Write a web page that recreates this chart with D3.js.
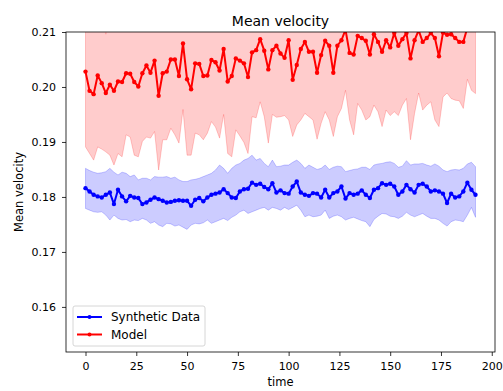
<!DOCTYPE html>
<html>
<head>
<meta charset="utf-8">
<script src="https://cdn.jsdelivr.net/npm/d3@7"></script>
<style>
  body { margin: 0; background: #fff; }
  svg { display: block; font-family: "DejaVu Sans", sans-serif; }
</style>
</head>
<body>
<svg id="chart" width="503" height="391"></svg>
<script>
// time steps (every 2 units, 0..192)
const time = d3.range(0, 193, 2);

const xTicks = [0, 25, 50, 75, 100, 125, 150, 175, 200];
const yTicks = [0.16, 0.17, 0.18, 0.19, 0.20, 0.21];

// Synthetic data: mean and band bounds
const synthMean = [
  .1816, .1810, .1804, .1801, .1799, .1804, .1808, .1787, .1813, .1801,
  .1792, .1802, .1799, .1798, .1787, .1790, .1795, .1799, .1796, .1793,
  .1790, .1791, .1793, .1794, .1793, .1793, .1784, .1795, .1798, .1792,
  .1799, .1804, .1806, .1808, .1814, .1807, .1799, .1798, .1810, .1814,
  .1815, .1826, .1822, .1824, .1818, .1814, .1825,
  .1808, .1812, .1807, .1806, .1819, .1828, .1808, .1804, .1802, .1807,
  .1806, .1799, .1813, .1799, .1807, .1810, .1819, .1797, .1807, .1804,
  .1806, .1812, .1804, .1798, .1813, .1816, .1825, .1822, .1824, .1819,
  .1804, .1810, .1822, .1814, .1808, .1822, .1824, .1819, .1810, .1812,
  .1810, .1806, .1789, .1806, .1799, .1801, .1810, .1826, .1813, .1804
];
const synthHigh = [
  .1852, .1848, .1845, .1843, .1844, .1846, .1852, .1845, .1840, .1845,
  .1843, .1837, .1840, .1831, .1834, .1834, .1831, .1837, .1836, .1836,
  .1837, .1834, .1836, .1831, .1828, .1828, .1831, .1832, .1834, .1837,
  .1840, .1843, .1849, .1858, .1852, .1843, .1852, .1858, .1861, .1867,
  .1870, .1876, .1867, .1870, .1861, .1855, .1867,
  .1855, .1856, .1858, .1858, .1863, .1867, .1861, .1852, .1858, .1854,
  .1850, .1852, .1858, .1850, .1854, .1856, .1855, .1846, .1848, .1850,
  .1851, .1854, .1854, .1850, .1858, .1860, .1861, .1863, .1864, .1861,
  .1854, .1856, .1866, .1858, .1860, .1860, .1861, .1858, .1856, .1860,
  .1856, .1849, .1846, .1849, .1850, .1849, .1852, .1860, .1863, .1855
];
const synthLow = [
  .1779, .1776, .1773, .1772, .1773, .1767, .1758, .1767, .1761, .1758,
  .1759, .1755, .1758, .1757, .1761, .1758, .1752, .1755, .1749, .1746,
  .1752, .1751, .1747, .1749, .1745, .1741, .1749, .1752, .1751, .1753,
  .1758, .1752, .1755, .1758, .1761, .1757, .1763, .1767, .1773, .1776,
  .1770, .1773, .1776, .1779, .1781, .1776, .1781,
  .1779, .1776, .1781, .1777, .1781, .1785, .1776, .1764, .1767, .1764,
  .1765, .1767, .1776, .1761, .1765, .1767, .1764, .1758, .1761, .1763,
  .1760, .1757, .1755, .1746, .1759, .1765, .1770, .1769, .1765, .1764,
  .1761, .1765, .1772, .1767, .1764, .1767, .1770, .1765, .1761, .1761,
  .1758, .1752, .1747, .1755, .1758, .1757, .1755, .1767, .1781, .1763
];

// Model: mean and lower bound (upper bound runs off the top of the axes)
const modelMean = [
  .2028, .1993, .1987, .2021, .2007, .1989, .2004, .1993, .2010, .2009,
  .2025, .2024, .2009, .2001, .2025, .2039, .2026, .2048, .1984, .2025,
  .2028, .2050, .2050, .2020, .2079, .2014, .1996, .2043, .2042, .2020,
  .2021, .2049, .2045, .2030, .2069, .2010, .2020, .2052, .2048, .2043,
  .2018, .2063, .2067, .2087, .2066,
  .2032, .2067, .2075, .2061, .2053, .2085, .2013, .2040, .2069, .2082,
  .2064, .2064, .2026, .2058, .2084, .2075, .2026, .2075, .2085, .2104,
  .2062, .2059, .2093, .2089, .2084, .2059, .2096, .2082, .2064, .2085,
  .2072, .2098, .2075, .2087, .2098, .2052, .2085, .2103, .2082, .2089,
  .2098, .2089, .2056, .2099, .2095, .2096, .2089, .2082, .2082,
  .2108, .2112, .2106
];
const modelLow = [
  .1891, .1879, .1867, .1891, .1887, .1882, .1876, .1858, .1879, .1873,
  .1913, .1909, .1876, .1873, .1901, .1909, .1907, .1919, .1849, .1904,
  .1904, .1925, .1913, .1898, .1959, .1876, .1876, .1916, .1913, .1904,
  .1916, .1937, .1927, .1907, .1950, .1879, .1873, .1922, .1911, .1899,
  .1879, .1946, .1944, .1973, .1946,
  .1898, .1950, .1945, .1946, .1948, .1940, .1910, .1931, .1940, .1952,
  .1946, .1940, .1905, .1934, .1955, .1940, .1910, .1946, .1961, .1994,
  .1940, .1913, .1970, .1958, .1940, .1946, .1967, .1955, .1928, .1958,
  .1948, .1955, .1948, .1967, .1979, .1904, .1952, .1989, .1958, .1967,
  .1973, .1940, .1928, .1982, .1989, .1979, .1976, .1975, .1961,
  .2014, .1994, .1988
];
// symmetric band: mean +/- spread
const modelHigh = modelMean.map((m, i) => m + (m - modelLow[i]));

const margin = { left: 66, right: 495, top: 32, bottom: 352 };

const x = d3.scaleLinear().domain([-9.6, 201.6]).range([margin.left, margin.right]);
const y = d3.scaleLinear().domain([0.1518, 0.21]).range([margin.bottom, margin.top]);

const svg = d3.select('#chart');

svg.append('defs').append('clipPath')
    .attr('id', 'plot-clip')
  .append('rect')
    .attr('x', margin.left)
    .attr('y', margin.top)
    .attr('width', margin.right - margin.left)
    .attr('height', margin.bottom - margin.top);

const plot = svg.append('g').attr('clip-path', 'url(#plot-clip)');

const series = [
  { name: 'Synthetic Data', color: '#0000ff', mean: synthMean, low: synthLow, high: synthHigh },
  { name: 'Model', color: '#ff0000', mean: modelMean, low: modelLow, high: modelHigh },
];

const area = (s) => d3.area()
    .x((d, i) => x(time[i]))
    .y0((d, i) => y(s.low[i]))
    .y1((d, i) => y(s.high[i]));

const line = d3.line()
    .x((d, i) => x(time[i]))
    .y((d) => y(d));

series.forEach((s) => {
  plot.append('path')
      .datum(s.mean)
      .attr('d', area(s))
      .attr('fill', s.color)
      .attr('fill-opacity', 0.2)
      .attr('stroke', s.color)
      .attr('stroke-opacity', 0.2)
      .attr('stroke-width', 1);
});

series.forEach((s) => {
  plot.append('path')
      .datum(s.mean)
      .attr('d', line)
      .attr('fill', 'none')
      .attr('stroke', s.color)
      .attr('stroke-width', 2)
      .attr('stroke-linejoin', 'round');

  plot.selectAll(null)
      .data(s.mean)
      .enter()
      .append('circle')
      .attr('cx', (d, i) => x(time[i]))
      .attr('cy', (d) => y(d))
      .attr('r', 2.2)
      .attr('fill', s.color);
});

// axes
const xAxis = svg.append('g')
    .attr('transform', `translate(0,${margin.bottom})`)
    .call(d3.axisBottom(x).tickValues(xTicks).tickSize(4).tickPadding(6).tickFormat(d3.format('d')));
const yAxis = svg.append('g')
    .attr('transform', `translate(${margin.left},0)`)
    .call(d3.axisLeft(y).tickValues(yTicks).tickSize(4).tickPadding(6).tickFormat(d3.format('.2f')));

[xAxis, yAxis].forEach((a) => {
  a.select('.domain').remove();
  a.selectAll('line').attr('stroke', '#000').attr('stroke-width', 0.8);
  a.selectAll('text')
      .attr('fill', '#000')
      .style('font-family', '"DejaVu Sans", sans-serif')
      .style('font-size', '11px');
});

// spines
svg.append('rect')
    .attr('x', margin.left)
    .attr('y', margin.top)
    .attr('width', margin.right - margin.left)
    .attr('height', margin.bottom - margin.top)
    .attr('fill', 'none')
    .attr('stroke', '#000')
    .attr('stroke-width', 0.8);

// title and labels
svg.append('text')
    .attr('x', (margin.left + margin.right) / 2)
    .attr('y', 26)
    .attr('text-anchor', 'middle')
    .style('font-size', '14px')
    .text('Mean velocity');

svg.append('text')
    .attr('x', (margin.left + margin.right) / 2)
    .attr('y', 386)
    .attr('text-anchor', 'middle')
    .style('font-size', '11.5px')
    .text('time');

svg.append('text')
    .attr('transform', `translate(23,${(margin.top + margin.bottom) / 2}) rotate(-90)`)
    .attr('text-anchor', 'middle')
    .style('font-size', '11.5px')
    .text('Mean velocity');

// legend
const legend = svg.append('g').attr('transform', 'translate(73,306)');
legend.append('rect')
    .attr('width', 132)
    .attr('height', 40)
    .attr('rx', 2)
    .attr('fill', '#fff')
    .attr('fill-opacity', 0.8)
    .attr('stroke', '#cccccc')
    .attr('stroke-width', 0.8);

series.forEach((s, i) => {
  const row = legend.append('g').attr('transform', `translate(0,${11 + i * 17.5})`);
  row.append('line')
      .attr('x1', 4).attr('x2', 29)
      .attr('stroke', s.color)
      .attr('stroke-width', 2);
  row.append('circle')
      .attr('cx', 16.5)
      .attr('r', 2)
      .attr('fill', s.color);
  row.append('text')
      .attr('x', 38)
      .attr('dy', '0.35em')
      .style('font-size', '12px')
      .text(s.name);
});
</script>
</body>
</html>
